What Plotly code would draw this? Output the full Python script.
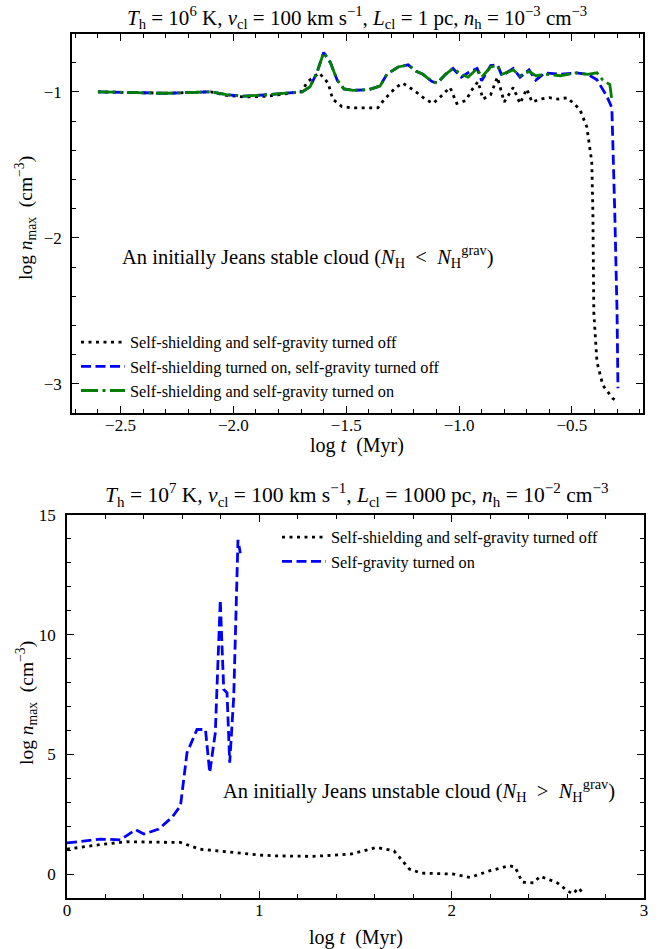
import plotly.graph_objects as go

# ---- Upper panel: initially Jeans stable cloud ----
t_off = [-2.60, -2.50, -2.40, -2.30, -2.20, -2.10, -2.03, -1.95, -1.85, -1.78,
         -1.70, -1.67, -1.62, -1.58, -1.56, -1.52, -1.48, -1.40, -1.36, -1.33,
         -1.28, -1.25, -1.20, -1.15, -1.115, -1.08, -1.04, -1.01, -0.97, -0.94,
         -0.916, -0.894, -0.86, -0.83, -0.80, -0.78, -0.76, -0.73, -0.70, -0.677,
         -0.64, -0.60, -0.56, -0.52, -0.50, -0.465, -0.434, -0.412, -0.407, -0.403,
         -0.389, -0.363, -0.319, -0.300]
n_off = [-1.00, -1.005, -1.01, -1.01, -1.005, -1.00, -1.025, -1.035, -1.03, -1.015,
         -1.00, -0.93, -0.87, -0.94, -1.05, -1.10, -1.11, -1.11, -1.11, -1.05,
         -0.97, -0.94, -0.99, -1.05, -1.08, -1.03, -0.97, -1.08, -1.06, -0.98,
         -0.93, -1.05, -1.02, -0.90, -1.07, -1.02, -0.97, -1.08, -0.98, -1.07,
         -1.05, -1.04, -1.05, -1.04, -1.07, -1.12, -1.24, -1.48, -1.83, -2.51,
         -2.85, -3.01, -3.10, -3.12]

t_ss = [-2.60, -2.50, -2.40, -2.30, -2.20, -2.10, -2.03, -1.95, -1.85, -1.75,
        -1.695, -1.66, -1.63, -1.60, -1.57, -1.54, -1.51, -1.47, -1.40, -1.35,
        -1.32, -1.27, -1.226, -1.19, -1.16, -1.12, -1.097, -1.06, -1.027, -0.99,
        -0.96, -0.92, -0.90, -0.86, -0.83, -0.81, -0.76, -0.73, -0.69, -0.66,
        -0.62, -0.55, -0.48, -0.43, -0.389, -0.345, -0.323, -0.310, -0.300, -0.296]
n_ss = [-1.00, -1.005, -1.01, -1.01, -1.005, -1.00, -1.02, -1.03, -1.02, -1.005,
        -1.00, -0.965, -0.87, -0.73, -0.80, -0.92, -0.98, -0.99, -0.985, -0.96,
        -0.88, -0.83, -0.815, -0.86, -0.88, -0.93, -0.94, -0.88, -0.84, -0.90,
        -0.87, -0.84, -0.925, -0.82, -0.815, -0.89, -0.84, -0.90, -0.85, -0.92,
        -0.87, -0.88, -0.87, -0.88, -0.918, -1.03, -1.11, -1.83, -2.51, -3.03]

t_sg = [-2.60, -2.50, -2.40, -2.30, -2.20, -2.10, -2.03, -1.95, -1.85, -1.75,
        -1.695, -1.66, -1.63, -1.60, -1.57, -1.54, -1.51, -1.47, -1.40, -1.35,
        -1.32, -1.27, -1.226, -1.19, -1.16, -1.12, -1.097, -1.06, -1.027, -0.99,
        -0.96, -0.92, -0.90, -0.86, -0.83, -0.81, -0.76, -0.73, -0.69, -0.66,
        -0.62, -0.55, -0.48, -0.43, -0.389, -0.363, -0.332, -0.323]
n_sg = [-1.00, -1.005, -1.01, -1.01, -1.005, -1.00, -1.02, -1.03, -1.02, -1.005,
        -1.00, -0.965, -0.87, -0.73, -0.80, -0.92, -0.98, -0.99, -0.985, -0.96,
        -0.88, -0.83, -0.815, -0.86, -0.88, -0.93, -0.94, -0.88, -0.84, -0.88,
        -0.90, -0.84, -0.90, -0.83, -0.82, -0.88, -0.85, -0.89, -0.86, -0.89,
        -0.88, -0.89, -0.87, -0.88, -0.87, -0.92, -0.95, -1.055]

# ---- Lower panel: initially Jeans unstable cloud ----
t_off2 = [0.00, 0.19, 0.31, 0.59, 0.69, 0.866, 1.005, 1.09, 1.28, 1.473,
          1.61, 1.70, 1.78, 1.84, 2.01, 2.095, 2.20, 2.30, 2.33, 2.367,
          2.425, 2.46, 2.55, 2.60, 2.63, 2.66, 2.685]
n_off2 = [1.04, 1.25, 1.35, 1.32, 1.04, 0.90, 0.79, 0.76, 0.74, 0.83,
          1.11, 0.97, 0.21, 0.04, 0.00, -0.14, 0.14, 0.35, 0.29, -0.34,
          -0.37, -0.09, -0.37, -0.69, -0.83, -0.58, -0.83]

t_grav = [0.00, 0.174, 0.278, 0.356, 0.40, 0.477, 0.546, 0.59, 0.624, 0.676,
          0.72, 0.742, 0.771, 0.797, 0.806, 0.815, 0.832, 0.846, 0.867, 0.889,
          0.901]
n_grav = [1.30, 1.46, 1.43, 1.85, 1.67, 1.88, 2.37, 2.85, 5.07, 6.04,
          6.04, 4.24, 5.90, 11.46, 9.51, 7.71, 7.57, 4.65, 7.43, 13.96,
          13.40]

FONT = "Liberation Serif"
BLACK = "black"
BLUE = "#0000ff"
GREEN = "#008000"

DOT = "3px,4.5px"
DASH = "10px,4.5px"
DASHDOT = "17px,4.5px,3px,4.5px"
LW = 2.8

fig = go.Figure()

fig.add_trace(go.Scatter(x=t_off, y=n_off, mode="lines",
                         line=dict(color=BLACK, width=LW, dash=DOT),
                         name="Self-shielding and self-gravity turned off",
                         xaxis="x", yaxis="y", legend="legend"))
fig.add_trace(go.Scatter(x=t_ss, y=n_ss, mode="lines",
                         line=dict(color=BLUE, width=LW, dash=DASH),
                         name="Self-shielding turned on, self-gravity turned off",
                         xaxis="x", yaxis="y", legend="legend"))
fig.add_trace(go.Scatter(x=t_sg, y=n_sg, mode="lines",
                         line=dict(color=GREEN, width=LW, dash=DASHDOT),
                         name="Self-shielding and self-gravity turned on",
                         xaxis="x", yaxis="y", legend="legend"))

fig.add_trace(go.Scatter(x=t_off2, y=n_off2, mode="lines",
                         line=dict(color=BLACK, width=LW, dash=DOT),
                         name="Self-shielding and self-gravity turned off",
                         xaxis="x2", yaxis="y2", legend="legend2"))
fig.add_trace(go.Scatter(x=t_grav, y=n_grav, mode="lines",
                         line=dict(color=BLUE, width=LW, dash=DASH),
                         name="Self-gravity turned on",
                         xaxis="x2", yaxis="y2", legend="legend2"))

W, H = 665, 949


def ax_style(**kw):
    base = dict(showline=True, linecolor="black", linewidth=1.5, mirror="ticks",
                ticks="inside", ticklen=7, tickwidth=1.3, tickcolor="black",
                showgrid=False, zeroline=False, automargin=False,
                tickfont=dict(family=FONT, size=17, color="black"))
    base.update(kw)
    return base


def minor(step):
    return dict(ticks="inside", ticklen=4, dtick=step, tick0=0,
                tickcolor="black", tickwidth=1.1)


fig.update_layout(
    width=W, height=H,
    margin=dict(l=0, r=0, t=0, b=0, autoexpand=False),
    paper_bgcolor="white", plot_bgcolor="white",
    font=dict(family=FONT, color="black"),
    xaxis=ax_style(domain=[72 / W, 643 / W], anchor="y",
                   range=[-2.715, -0.185], dtick=0.5, tick0=0, tickformat=".1f",
                   ticklabelstandoff=-4, minor=minor(0.1)),
    yaxis=ax_style(domain=[1 - 413 / H, 1 - 34 / H], anchor="x",
                   range=[-3.2, -0.604], dtick=1, tick0=0,
                   ticklabelstandoff=5, minor=minor(0.2)),
    xaxis2=ax_style(domain=[67 / W, 644 / W], anchor="y2",
                    range=[0, 3], dtick=1, tick0=0,
                    ticklabelstandoff=-4, minor=minor(0.2)),
    yaxis2=ax_style(domain=[1 - 898 / H, 1 - 515 / H], anchor="x2",
                    range=[-1, 15], dtick=5, tick0=0,
                    ticklabelstandoff=6, minor=minor(1)),
    legend=dict(x=76 / W, y=1 - 325 / H, xanchor="left", yanchor="top",
                bgcolor="rgba(0,0,0,0)", borderwidth=0, itemwidth=44,
                font=dict(family=FONT, size=16.3, color="black")),
    legend2=dict(x=277 / W, y=1 - 520 / H, xanchor="left", yanchor="top",
                 bgcolor="rgba(0,0,0,0)", borderwidth=0, itemwidth=44,
                 font=dict(family=FONT, size=16.3, color="black")),
)

S = "&nbsp;"
ylab = f"log{S}<i>n</i><sub>max</sub>{S}{S}(cm<sup>−3</sup>)"
xlab = f"log{S}<i>t</i>{S}{S}(Myr)"
title1 = (f"<i>T</i><sub>h</sub>{S}={S}10<sup>6</sup>{S}K, <i>v</i><sub>cl</sub>{S}={S}100{S}km s<sup>−1</sup>, "
          f"<i>L</i><sub>cl</sub>{S}={S}1{S}pc, <i>n</i><sub>h</sub>{S}={S}10<sup>−3</sup>{S}cm<sup>−3</sup>")
title2 = (f"<i>T</i><sub>h</sub>{S}={S}10<sup>7</sup>{S}K, <i>v</i><sub>cl</sub>{S}={S}100{S}km s<sup>−1</sup>, "
          f"<i>L</i><sub>cl</sub>{S}={S}1000{S}pc, <i>n</i><sub>h</sub>{S}={S}10<sup>−2</sup>{S}cm<sup>−3</sup>")


def note(text, x, y, size=16, angle=0, xanchor="center"):
    fig.add_annotation(text=text, x=x / W, y=1 - y / H, xref="paper", yref="paper",
                       showarrow=False, textangle=angle, xanchor=xanchor, yanchor="middle",
                       font=dict(family=FONT, size=size, color="black"))


note(title1, 357, 17, size=21)
note(title2, 356, 495, size=21.5)
note(xlab, 357, 445, size=20)
note(xlab, 356, 937, size=20)
note(ylab, 26, 218, size=19.5, angle=-90)
note(ylab, 26, 703, size=19.5, angle=-90)
note(f"An initially Jeans stable cloud (<i>N</i><sub>H</sub>{S}{S}&lt;{S}{S}<i>N</i><sub>H</sub><sup>grav</sup>)",
     120, 256, size=20.5, xanchor="left")
note(f"An initially Jeans unstable cloud (<i>N</i><sub>H</sub>{S}{S}&gt;{S}{S}<i>N</i><sub>H</sub><sup>grav</sup>)",
     221, 790, size=20.5, xanchor="left")

fig.write_html("out.html")
